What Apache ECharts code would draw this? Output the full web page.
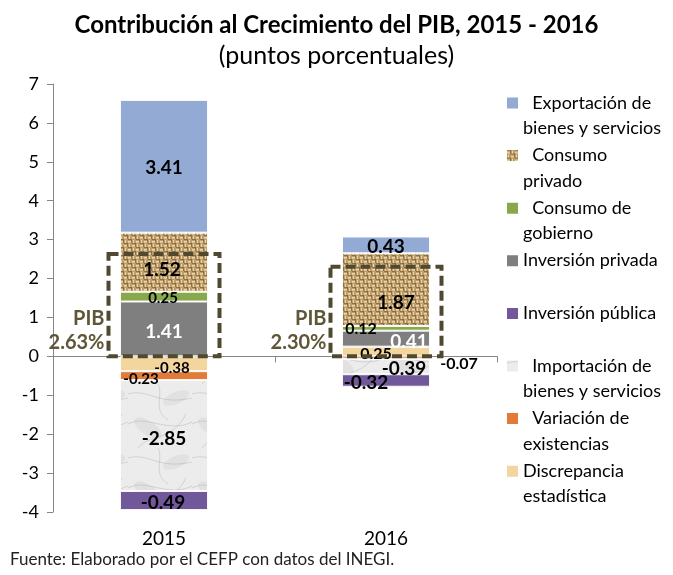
<!DOCTYPE html>
<html>
<head>
<meta charset="utf-8">
<script src="https://cdn.jsdelivr.net/npm/echarts@6/dist/echarts.min.js"></script>
<style>
  html, body { margin: 0; padding: 0; background: #fff; }
  #chart { width: 673px; height: 575px; }
</style>
</head>
<body>
<div id="chart"></div>
<script>
// datos (puntos porcentuales)
const years = ["2015", "2016"];
const exportacion = [3.41, 0.43];
const consumoPrivado = [1.52, 1.87];
const consumoGobierno = [0.25, 0.12];
const inversionPrivada = [1.41, 0.41];
const inversionPublica = [-0.49, -0.32];
const importacion = [-2.85, -0.39];
const variacion = [-0.23, -0.07];
const discrepancia = [-0.38, 0.25];
const pib = [2.63, 2.30];

const FONT = "Lato, 'Open Sans', sans-serif";

// texturas tipo Excel
function burlap() {
  const c = document.createElement("canvas");
  c.width = 8; c.height = 8;
  const g = c.getContext("2d");
  g.fillStyle = "#bd9d69"; g.fillRect(0, 0, 8, 8);
  g.fillStyle = "#ead6aa";
  g.fillRect(0, 1, 4, 1); g.fillRect(4, 5, 4, 1);
  g.fillRect(5, 0, 1, 4); g.fillRect(1, 4, 1, 4);
  g.fillStyle = "#d8c093";
  g.fillRect(0, 2, 4, 1); g.fillRect(4, 6, 4, 1);
  g.fillStyle = "#8d6e43";
  g.fillRect(4, 3, 4, 1); g.fillRect(0, 7, 4, 1);
  g.fillRect(3, 0, 1, 3); g.fillRect(7, 4, 1, 3);
  return c;
}
function marble() {
  const c = document.createElement("canvas");
  c.width = 64; c.height = 64;
  const g = c.getContext("2d");
  g.fillStyle = "#ececec"; g.fillRect(0, 0, 64, 64);
  g.fillStyle = "rgba(205,205,205,0.35)";
  g.beginPath(); g.ellipse(20, 44, 16, 7, 0.6, 0, Math.PI * 2); g.fill();
  g.beginPath(); g.ellipse(48, 14, 14, 6, -0.4, 0, Math.PI * 2); g.fill();
  g.strokeStyle = "rgba(150,150,150,0.3)";
  g.lineWidth = 1;
  const curves = [
    [0, 10, 20, 4, 30, 22, 64, 14],
    [0, 40, 18, 30, 40, 50, 64, 38],
    [10, 64, 20, 50, 44, 58, 58, 30],
    [30, 0, 36, 12, 24, 26, 40, 36]
  ];
  curves.forEach(p => {
    g.beginPath(); g.moveTo(p[0], p[1]);
    g.bezierCurveTo(p[2], p[3], p[4], p[5], p[6], p[7]); g.stroke();
  });
  return c;
}

const stackSeries = [
  { name: "Discrepancia estadística", values: discrepancia, color: "#f3d59e",
    lab: [{ offset: [8, 4], size: 15 }, { offset: [-10, 2], size: 16 }] },
  { name: "Variación de existencias", values: variacion, color: "#e27b37",
    lab: [{ offset: [-23, 4], size: 15 }, { offset: [73, 6], size: 16 }] },
  { name: "Importación de bienes y servicios", values: importacion, color: { image: marble(), repeat: "repeat" },
    lab: [{ offset: [0, 3], size: 19 }, { offset: [18, 2], size: 19 }] },
  { name: "Inversión pública", values: inversionPublica, color: "#70589a",
    lab: [{ offset: [-1, 2], size: 19 }, { offset: [-20, 2], size: 19 }] },
  { name: "Inversión privada", values: inversionPrivada, color: "#7f7f7f", white: true,
    lab: [{ offset: [0, 3], size: 19 }, { offset: [23, 3], size: 19 }] },
  { name: "Consumo de gobierno", values: consumoGobierno, color: "#88a84c",
    lab: [{ offset: [-1, 2], size: 15 }, { offset: [-25, 0], size: 16 }] },
  { name: "Consumo privado", values: consumoPrivado, color: { image: burlap(), repeat: "repeat" },
    lab: [{ offset: [-2, 8], size: 19 }, { offset: [10, 13], size: 19 }] },
  { name: "Exportación de bienes y servicios", values: exportacion, color: "#92aad4",
    lab: [{ offset: [0, 2], size: 19 }, { offset: [0, 2], size: 19 }] }
];

const legendOrder = [
  "Exportación de bienes y servicios", "Consumo privado", "Consumo de gobierno",
  "Inversión privada", "Inversión pública", "Importación de bienes y servicios",
  "Variación de existencias", "Discrepancia estadística"
];
const legendText = {
  "Exportación de bienes y servicios": "  Exportación de\nbienes y servicios",
  "Consumo privado": "  Consumo\nprivado",
  "Consumo de gobierno": "  Consumo de\ngobierno",
  "Inversión privada": "Inversión privada\n",
  "Inversión pública": "Inversión pública\n",
  "Importación de bienes y servicios": "  Importación de\nbienes y servicios",
  "Variación de existencias": "  Variación de\nexistencias",
  "Discrepancia estadística": "Discrepancia\nestadística"
};

const series = stackSeries.map(s => ({
  name: s.name,
  type: "bar",
  stack: "pib",
  barWidth: 88,
  xAxisIndex: 0,
  itemStyle: { color: s.color, borderColor: "rgba(255,255,255,0.9)", borderWidth: 1 },
  emphasis: { disabled: true },
  data: s.values.map((v, i) => ({
    value: v,
    label: { offset: s.lab[i].offset, fontSize: s.lab[i].size }
  })),
  label: {
    show: true,
    position: "inside",
    fontFamily: FONT,
    fontWeight: "bold",
    color: s.white ? "#fff" : "#000",
    formatter: p => p.value.toFixed(2)
  }
}));

series.push({
  name: "PIB",
  type: "custom",
  xAxisIndex: 0,
  z: 10,
  silent: true,
  encode: { x: 0, y: 1 },
  data: pib.map((v, i) => [i, v]),
  renderItem(params, api) {
    const x = api.value(0), v = api.value(1);
    const top = api.coord([x, v]);
    const base = api.coord([x, 0]);
    const w = api.size([1, 0])[0] * 0.5;
    const left = top[0] - w / 2;
    return {
      type: "group",
      children: [
        { type: "rect", shape: { x: left, y: top[1], width: w, height: base[1] - top[1] },
          style: { fill: "none", stroke: "#4f4a2f", lineWidth: 4, lineDash: [10, 5] } },
        { type: "text", style: { text: "PIB", x: left - 4, y: base[1] - 38, align: "right",
          verticalAlign: "middle", font: "bold 20px " + FONT, fill: "#5e5637" } },
        { type: "text", style: { text: v.toFixed(2) + "%", x: left - 4, y: base[1] - 14, align: "right",
          verticalAlign: "middle", font: "bold 20px " + FONT, fill: "#5e5637" } }
      ]
    };
  }
});

const chart = echarts.init(document.getElementById("chart"));
chart.setOption({
  animation: false,
  title: [
    { text: "Contribución al Crecimiento del PIB, 2015 - 2016", left: "center", top: 8,
      textStyle: { fontFamily: FONT, fontSize: 24, fontWeight: "bold", color: "#000" } },
    { text: "(puntos porcentuales)", left: "center", top: 38,
      textStyle: { fontFamily: FONT, fontSize: 25, fontWeight: "normal", color: "#000" } },
    { text: "Fuente: Elaborado por el CEFP con datos del INEGI.", left: 5, top: 546,
      textStyle: { fontFamily: FONT, fontSize: 17, fontWeight: "normal", color: "#222" } }
  ],
  grid: { left: 53, right: 176, top: 84, bottom: 63 },
  legend: {
    orient: "vertical",
    left: 502,
    top: 85,
    data: legendOrder,
    itemWidth: 11,
    itemHeight: 51,
    itemGap: 1.6,
    icon: "path://M0,7.5h11v11h-11z M0,0h11 M0,51h11",
    itemStyle: { borderWidth: 0 },
    selectedMode: false,
    formatter: n => legendText[n],
    textStyle: { fontFamily: FONT, fontSize: 18, lineHeight: 25.5, color: "#000" }
  },
  xAxis: [
    { type: "category", data: years, position: "bottom",
      axisLine: { show: false, onZero: false }, axisTick: { show: false },
      axisLabel: { fontFamily: FONT, fontSize: 19, color: "#000", margin: 17 } },
    { type: "category", data: years, position: "bottom",
      axisLine: { show: true, onZero: true, lineStyle: { color: "#868686" } },
      axisTick: { show: true, length: 6, lineStyle: { color: "#868686" } },
      axisLabel: { show: false } }
  ],
  yAxis: {
    type: "value", min: -4, max: 7, interval: 1,
    axisLine: { show: true, lineStyle: { color: "#868686" } },
    axisTick: { show: true, length: 6, lineStyle: { color: "#868686" } },
    splitLine: { show: false },
    axisLabel: { fontFamily: FONT, fontSize: 18, color: "#000", margin: 14 }
  },
  series: series
});
</script>
</body>
</html>
